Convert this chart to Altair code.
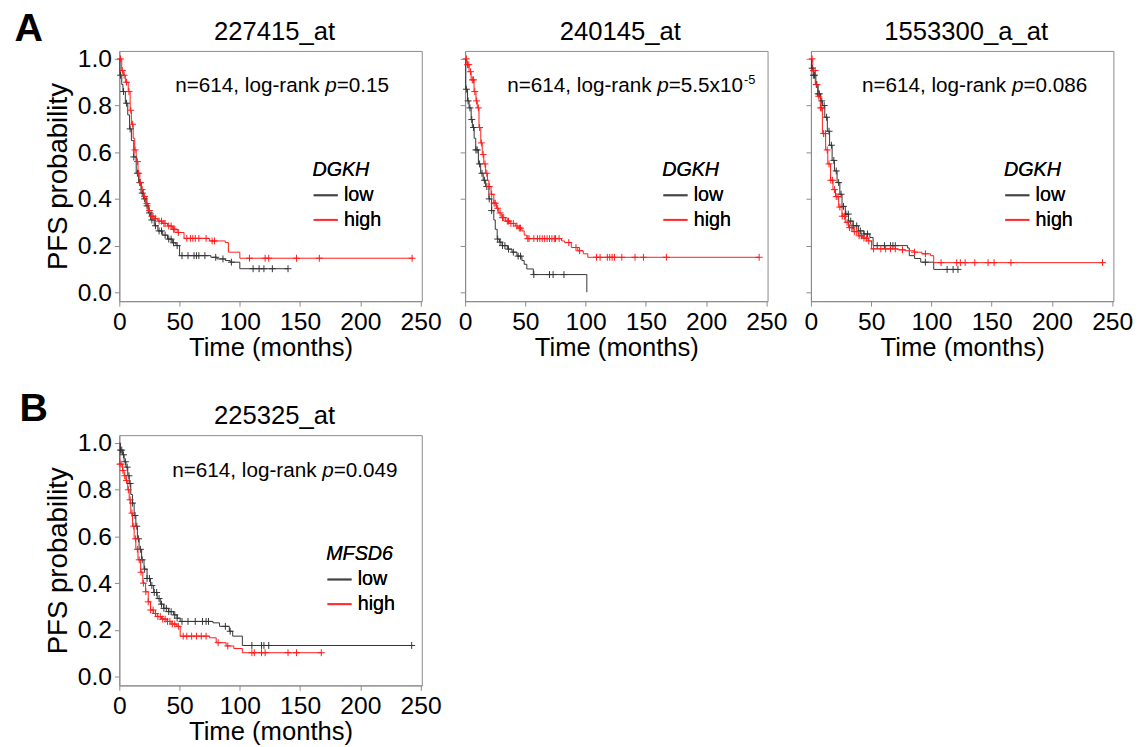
import altair as alt
import pandas as pd

FONT = "Liberation Sans"
GRAY = "#333333"
RED = "#ff1a1a"

# ---------------- data ----------------
# Panel 1: 227415_at (DGKH)
p1_low_t = [0, 0.5, 2, 3, 5, 7, 8.5, 10, 12, 14, 16, 18, 20, 22, 24, 26, 29, 32, 36, 40, 44, 47, 50, 76, 81, 88, 92, 100, 140]
p1_low_s = [1.0, 0.93, 0.89, 0.86, 0.81, 0.76, 0.70, 0.65, 0.58, 0.51, 0.47, 0.425, 0.40, 0.37, 0.34, 0.31, 0.285, 0.263, 0.245, 0.228, 0.212, 0.20, 0.157, 0.150, 0.143, 0.136, 0.129, 0.101, 0.101]
p1_low_c = [1, 3.5, 6, 9, 12, 15, 17, 19, 21, 23, 25, 27, 30, 33, 35, 38, 41, 43, 45, 48, 52, 57, 62, 64, 66, 71, 80, 86, 93, 111, 116, 120, 127, 140]
p1_high_t = [0, 2, 3.3, 5, 7.4, 9, 10, 11.5, 12.8, 14, 15.5, 17, 18.3, 20, 22.4, 24, 26.4, 29, 32, 36, 40, 44, 48, 53.7, 75, 88, 90.5, 100, 243]
p1_high_s = [1.0, 0.95, 0.93, 0.90, 0.86, 0.78, 0.72, 0.66, 0.61, 0.56, 0.51, 0.47, 0.44, 0.41, 0.38, 0.35, 0.326, 0.315, 0.305, 0.295, 0.284, 0.27, 0.256, 0.231, 0.22, 0.213, 0.172, 0.146, 0.146]
p1_high_c = [1, 2.5, 4, 6, 8, 9.5, 11, 13, 15, 16, 17.5, 19, 21, 23, 25, 27, 28, 30, 33, 35, 37, 38, 41, 43, 45, 46, 49, 56, 59, 61, 63, 66, 72, 77, 79, 108, 121, 124, 147, 166, 243]

# Panel 2: 240145_at (DGKH)
p2_low_t = [0, 0.5, 2, 3.3, 5, 6, 7.5, 8.8, 11, 12.9, 15, 17, 19.7, 22, 23.8, 25, 26.6, 28.5, 30.7, 35, 38.9, 43, 47.1, 49, 51.2, 56.6, 101]
p2_low_s = [1.0, 0.87, 0.82, 0.79, 0.74, 0.706, 0.66, 0.61, 0.55, 0.51, 0.48, 0.453, 0.40, 0.35, 0.31, 0.27, 0.228, 0.215, 0.20, 0.185, 0.172, 0.155, 0.136, 0.12, 0.10, 0.076, 0.0]
p2_low_c = [1, 2.5, 4, 5.5, 7, 9, 10, 12, 14, 16, 18, 20, 22, 27, 29, 31, 33, 36, 40, 44, 46, 57, 70, 73, 82]
p2_high_t = [0, 1.5, 3.3, 5, 7.4, 9, 10.1, 11.5, 13, 14.2, 15.5, 17, 18.5, 19.7, 21.5, 23.8, 26, 27.9, 30, 33.4, 37, 41.6, 44, 47.1, 49, 51.2, 80, 82.6, 88.1, 93.5, 98, 101.8, 244]
p2_high_s = [1.0, 0.975, 0.945, 0.91, 0.86, 0.82, 0.79, 0.706, 0.64, 0.59, 0.55, 0.51, 0.48, 0.453, 0.42, 0.382, 0.36, 0.34, 0.32, 0.305, 0.295, 0.284, 0.275, 0.263, 0.245, 0.23, 0.22, 0.213, 0.192, 0.178, 0.165, 0.15, 0.15]
p2_high_c = [1, 2, 3, 4.5, 6, 7, 8, 9.5, 11, 12, 13.5, 15, 16.5, 18, 20, 22, 24, 25, 27, 29, 31, 32, 35, 36, 38, 40, 43, 45, 46, 52, 53, 57, 60, 62, 64, 66, 68, 70, 72, 74, 75, 78, 86, 92, 95, 109, 112, 118, 120, 122, 124, 130, 141, 148, 167, 244]

# Panel 3: 1553300_a_at (DGKH)
p3_low_t = [0, 0.5, 2, 4.1, 6, 8, 9.5, 11.5, 13.6, 15.5, 17.6, 19.5, 21.7, 24, 25.8, 28.5, 31.2, 35, 39.4, 44, 48.9, 51.6, 80.2, 81.6, 86, 91.1, 101.9, 122]
p3_low_s = [1.0, 0.96, 0.93, 0.89, 0.85, 0.82, 0.80, 0.75, 0.69, 0.63, 0.565, 0.52, 0.47, 0.42, 0.368, 0.335, 0.305, 0.285, 0.263, 0.25, 0.235, 0.20, 0.19, 0.157, 0.145, 0.129, 0.098, 0.098]
p3_low_c = [1, 2, 3, 4.5, 6, 7, 9, 11, 13, 15, 17, 19, 21, 23, 25, 27, 29, 31, 33, 35, 38, 41, 44, 47, 55, 61, 66, 68, 70, 95, 113, 118, 122]
p3_high_t = [0, 1.5, 3.6, 5.5, 7.8, 9.5, 12.2, 14, 16.3, 18.3, 20.4, 23, 25.8, 28.5, 31.2, 35, 39.4, 43, 47.5, 50.3, 72, 78, 85.6, 92, 99.2, 101.9, 242]
p3_high_s = [1.0, 0.95, 0.89, 0.84, 0.79, 0.68, 0.61, 0.55, 0.48, 0.44, 0.41, 0.365, 0.326, 0.30, 0.277, 0.26, 0.242, 0.232, 0.22, 0.186, 0.182, 0.178, 0.172, 0.165, 0.157, 0.127, 0.127]
p3_high_c = [1, 2, 3.5, 5, 6.5, 8, 9, 10.5, 12, 13.5, 15, 16.5, 18, 19.5, 21, 22.5, 24, 26, 28, 30, 32, 34, 36, 38, 40, 42, 44, 46, 48, 52, 58, 62, 66, 70, 76, 86, 95, 108, 121, 124, 128, 136, 147, 152, 166, 242]

# Panel 4: 225325_at (MFSD6)
p4_low_t = [0, 1, 2.7, 4, 5.5, 7, 8.2, 9.5, 10.9, 12.3, 13.7, 15, 16.4, 18.5, 20.5, 23, 25.9, 28.5, 31.4, 34, 36.8, 41, 45, 48, 50.5, 77.7, 83.2, 91.3, 94.1, 102.1, 242.6]
p4_low_s = [1.0, 0.97, 0.95, 0.92, 0.897, 0.86, 0.827, 0.78, 0.743, 0.69, 0.644, 0.59, 0.545, 0.50, 0.46, 0.42, 0.39, 0.36, 0.334, 0.31, 0.292, 0.278, 0.264, 0.25, 0.236, 0.23, 0.215, 0.194, 0.173, 0.133, 0.133]
p4_low_c = [1, 2, 3.5, 5, 6.5, 8, 9, 11, 13, 14.5, 16, 17.5, 19, 21, 23, 25, 27, 29, 31, 33, 35, 37, 39, 41, 43, 46, 48, 52, 57, 63, 69, 72, 74, 88, 92, 110, 118, 120, 124, 242.6]
p4_high_t = [0, 0.3, 2.7, 4, 5.5, 7, 8.2, 9.5, 10.9, 12.3, 13.7, 15.5, 17.7, 19.5, 21.8, 24, 25.9, 28.5, 31.4, 35, 39.6, 43, 47.7, 50.5, 75, 80.4, 88.6, 95, 102.1, 167.6]
p4_high_s = [1.0, 0.91, 0.883, 0.86, 0.84, 0.80, 0.757, 0.70, 0.644, 0.59, 0.545, 0.50, 0.447, 0.40, 0.363, 0.32, 0.285, 0.27, 0.257, 0.246, 0.236, 0.225, 0.215, 0.173, 0.166, 0.145, 0.131, 0.12, 0.102, 0.102]
p4_high_c = [0.5, 1.5, 3, 4.5, 6, 7.5, 9, 10.5, 12, 13.5, 15, 16.5, 18, 20, 22, 24, 26, 28, 30, 32, 34, 36, 38, 40, 42, 44, 46, 49, 53, 56, 60, 64, 68, 72, 82, 90, 110, 112, 118, 121, 140, 147, 167.6]

titles = ["227415_at", "240145_at", "1553300_a_at", "225325_at"]
genes = ["DGKH", "DGKH", "DGKH", "MFSD6"]
pvals = ["=0.15", "=5.5x10", "=0.086", "=0.049"]
x_ticks = [0, 50, 100, 150, 200, 250]
y_ticks = [0.0, 0.2, 0.4, 0.6, 0.8, 1.0]

W, H = 307, 254
AF = 21  # annotation font size


def step_value(ts, ss, c):
    v = ss[0]
    for t, s in zip(ts, ss):
        if t <= c:
            v = s
    return v


def txt_layer(text, x, y, size, align="left", style="normal", weight="normal"):
    one = pd.DataFrame({"k": [0]})
    return alt.Chart(one).mark_text(
        font=FONT, fontSize=size, align=align, baseline="alphabetic", color="black",
        fontStyle=style, fontWeight=weight,
    ).encode(x=alt.value(x), y=alt.value(y), text=alt.value(text))


def make_panel(title, gene, low, high, pval, show_y, p_x, leg_x, letter=None, sup=None):
    rows, cens = [], []
    for grp, (ts, ss, cs) in (("low", low), ("high", high)):
        for t, s in zip(ts, ss):
            rows.append({"time": t, "surv": s, "group": grp})
        for c in cs:
            cens.append({"time": c, "surv": step_value(ts, ss, c), "group": grp})
    line_df = pd.DataFrame(rows)
    cens_df = pd.DataFrame(cens)

    xs = alt.Scale(domain=[0, 251], nice=False, zero=False)
    ys = alt.Scale(domain=[-0.038, 1.034], nice=False, zero=False)
    xax = alt.Axis(values=x_ticks, title="Time (months)", format="d")
    if show_y:
        yax = alt.Axis(values=y_ticks, title="PFS probability", format=".1f")
    else:
        yax = alt.Axis(values=y_ticks, title=None, labels=False)
    cs = alt.Scale(domain=["low", "high"], range=[GRAY, RED])
    leg = alt.Legend(title=gene, orient="none", legendX=leg_x, legendY=111,
                     symbolType="stroke", symbolSize=600, symbolStrokeWidth=2,
                     symbolOpacity=0.7,
                     titleFontStyle="italic", titleFontSize=20, titleFontWeight="normal",
                     titleFont=FONT, labelFont=FONT, labelFontSize=20,
                     titleColor="black", labelColor="black", labelOffset=5,
                     titlePadding=2, rowPadding=1, padding=0)

    lines = alt.Chart(line_df).mark_line(interpolate="step-after", strokeWidth=1).encode(
        x=alt.X("time:Q", scale=xs, axis=xax),
        y=alt.Y("surv:Q", scale=ys, axis=yax),
        color=alt.Color("group:N", scale=cs, legend=leg),
        detail="group:N",
    )
    marks = alt.Chart(cens_df).mark_point(
        shape="M-1,0L1,0M0,-1L0,1", size=49, filled=False, strokeWidth=1, opacity=1
    ).encode(
        x=alt.X("time:Q", scale=xs),
        y=alt.Y("surv:Q", scale=ys),
        color=alt.Color("group:N", scale=cs, legend=leg),
    )

    ty = 42
    pw = 0.556 * AF
    txt = [
        txt_layer(title, W / 2 + 4, -11, 26, align="center"),
        txt_layer("n=614, log-rank", p_x - 0.278 * AF, ty, AF, align="right"),
        txt_layer("p", p_x, ty, AF, style="italic"),
        txt_layer(pval, p_x + pw, ty, AF),
    ]
    if sup:
        txt.append(txt_layer(sup, p_x + pw + 3.586 * AF + 1, ty - 8, 13))
    if letter:
        txt.append(txt_layer(letter[0], letter[1], letter[2], 40, align="center", weight="bold"))

    return alt.layer(lines, marks, *txt).properties(width=W, height=H).resolve_scale(
        color="independent").resolve_legend(color="independent")


p1 = make_panel(titles[0], genes[0], (p1_low_t, p1_low_s, p1_low_c), (p1_high_t, p1_high_s, p1_high_c),
                pvals[0], True, 209, 196, letter=("A", -92, -10))
p2 = make_panel(titles[1], genes[1], (p2_low_t, p2_low_s, p2_low_c), (p2_high_t, p2_high_s, p2_high_c),
                pvals[1], False, 195, 200, sup="-5")
p3 = make_panel(titles[2], genes[2], (p3_low_t, p3_low_s, p3_low_c), (p3_high_t, p3_high_s, p3_high_c),
                pvals[2], False, 204, 196)
p4 = make_panel(titles[3], genes[3], (p4_low_t, p4_low_s, p4_low_c), (p4_high_t, p4_high_s, p4_high_c),
                pvals[3], True, 206, 210, letter=("B", -87, -14))

row1 = alt.hconcat(p1, p2, p3, spacing=15).resolve_scale(color="independent").resolve_legend(color="independent")
row2 = alt.hconcat(p4)

chart = alt.vconcat(row1, row2, spacing=28).resolve_scale(
    color="independent").resolve_legend(color="independent").properties(
    padding={"left": 6, "top": -5, "right": 5, "bottom": 0}, background="white"
).configure_view(stroke="#8a8a8a", strokeWidth=1).configure_axis(
    grid=False, domainColor="#8a8a8a", tickColor="#8a8a8a", tickSize=5,
    labelFont=FONT, titleFont=FONT, labelFontSize=25, titleFontSize=26,
    labelColor="black", titleColor="black", titleFontWeight="normal",
    labelFlush=False, labelOverlap=False,
).configure_axisX(labelPadding=4, titlePadding=0).configure_axisY(
    labelPadding=3, titlePadding=5, titleFontSize=28)

chart.save("out.html", embed_options={"renderer": "svg", "actions": False})
